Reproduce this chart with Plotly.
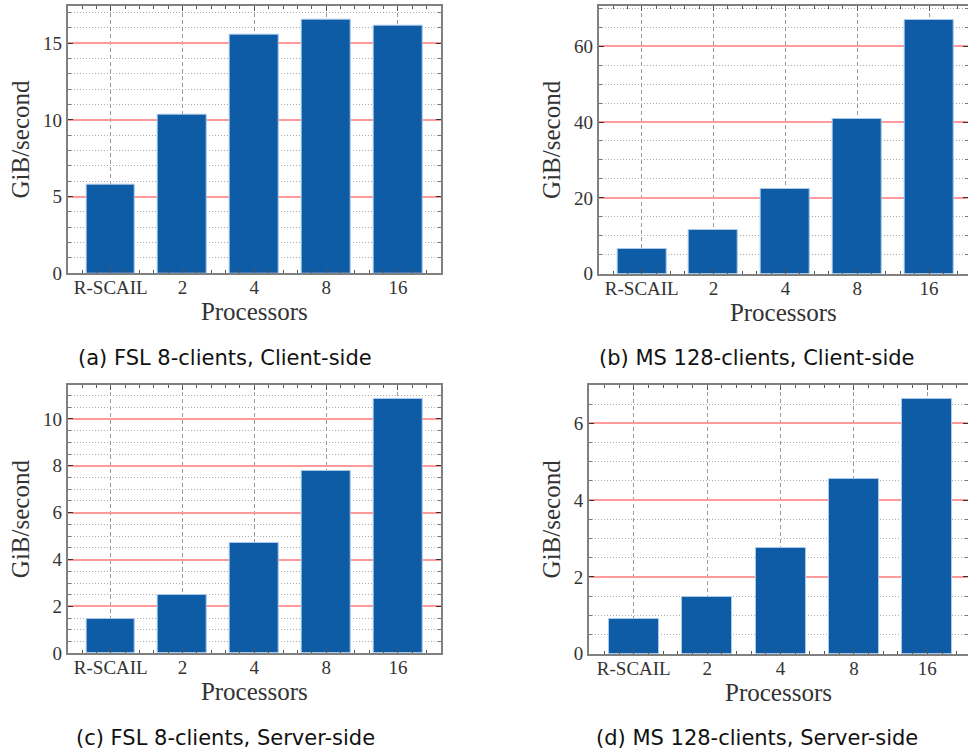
import plotly.graph_objects as go

# Throughput of R-SCAIL versus multi-processor runs
categories = ["R-SCAIL", "2", "4", "8", "16"]
fsl_client = [5.8, 10.37, 15.59, 16.54, 16.13]
ms_client = [6.6, 11.5, 22.4, 40.7, 67.0]
fsl_server = [1.48, 2.5, 4.69, 7.77, 10.87]
ms_server = [0.9, 1.48, 2.76, 4.56, 6.63]

captions = [
    "(a) FSL 8-clients, Client-side",
    "(b) MS 128-clients, Client-side",
    "(c) FSL 8-clients, Server-side",
    "(d) MS 128-clients, Server-side",
]

W, H = 968, 756
BAR = "#0e5ca6"
SERIF = "Liberation Serif"
SANS = "DejaVu Sans"

panels = [
    # values, x-domain px, y-domain px (top, bottom), x range, y range, major, minor
    dict(vals=fsl_client, xd=(67.7, 441.0), yd=(5.7, 273.3), xr=(-0.6, 4.6), yr=(0, 17.45), dt=5, mdt=1),
    dict(vals=ms_client, xd=(598.7, 968.0), yd=(6.0, 273.7), xr=(-0.6, 4.543), yr=(0, 70.6), dt=20, mdt=5),
    dict(vals=fsl_server, xd=(67.7, 441.0), yd=(385.0, 653.3), xr=(-0.6, 4.6), yr=(0, 11.45), dt=2, mdt=0.5),
    dict(vals=ms_server, xd=(589.0, 968.0), yd=(385.0, 653.7), xr=(-0.61, 4.554), yr=(0, 7.0), dt=2, mdt=0.5),
]

fig = go.Figure()
xs = list(range(len(categories)))

for i, p in enumerate(panels):
    n = "" if i == 0 else str(i + 1)
    fig.add_trace(go.Bar(
        x=xs, y=p["vals"], width=0.68,
        marker=dict(color=BAR, line=dict(color="#a9c9ea", width=1)),
        xaxis="x" + n, yaxis="y" + n, showlegend=False,
    ))
    xdom = [p["xd"][0] / W, min(p["xd"][1] / W, 1.0)]
    ydom = [1 - p["yd"][1] / H, 1 - p["yd"][0] / H]
    fig.layout["xaxis" + n] = dict(
        domain=xdom, anchor="y" + n, range=list(p["xr"]),
        tickmode="array", tickvals=xs, ticktext=categories,
        ticks="inside", ticklen=5, tickcolor="#555", mirror="allticks",
        showline=True, linecolor="#808080", linewidth=2,
        showgrid=True, gridcolor="#9a9a9a", gridwidth=1, griddash="4px,3px",
        minor=dict(dtick=0.2, tick0=0, ticks="inside", ticklen=3, tickcolor="#555", showgrid=False),
        tickfont=dict(family=SERIF, size=19, color="#333"), ticklabelstandoff=-4,
        title=dict(text="Processors", font=dict(family=SERIF, size=25, color="#333"), standoff=0),
        zeroline=False, automargin=False,
    )
    fig.layout["yaxis" + n] = dict(
        domain=ydom, anchor="x" + n, range=list(p["yr"]),
        dtick=p["dt"], tick0=0,
        ticks="inside", ticklen=5, tickcolor="#333", mirror="allticks",
        showline=True, linecolor="#808080", linewidth=2,
        showgrid=True, gridcolor="#ff9a9a", gridwidth=1.5,
        minor=dict(dtick=p["mdt"], tick0=0, ticks="inside", ticklen=3, tickcolor="#777",
                   showgrid=True, gridcolor="#ababab", gridwidth=1, griddash="1px,2px"),
        tickfont=dict(family=SERIF, size=19, color="#333"),
        title=dict(text="GiB/second", font=dict(family=SERIF, size=25, color="#333"), standoff=6),
        zeroline=False, automargin=False,
    )

# Sub-figure captions
cap_pos = [(225, 358), (757, 358), (225, 738), (757, 738)]
for text, (cx, cy) in zip(captions, cap_pos):
    fig.add_annotation(
        text=text, x=cx / W, y=1 - cy / H, xref="paper", yref="paper",
        showarrow=False, xanchor="center", yanchor="middle",
        font=dict(family=SANS, size=21, color="#111"),
    )

fig.update_layout(
    width=W, height=H, margin=dict(l=0, r=0, t=0, b=0),
    paper_bgcolor="white", plot_bgcolor="white", bargap=0,
)

fig.write_html("out.html")
